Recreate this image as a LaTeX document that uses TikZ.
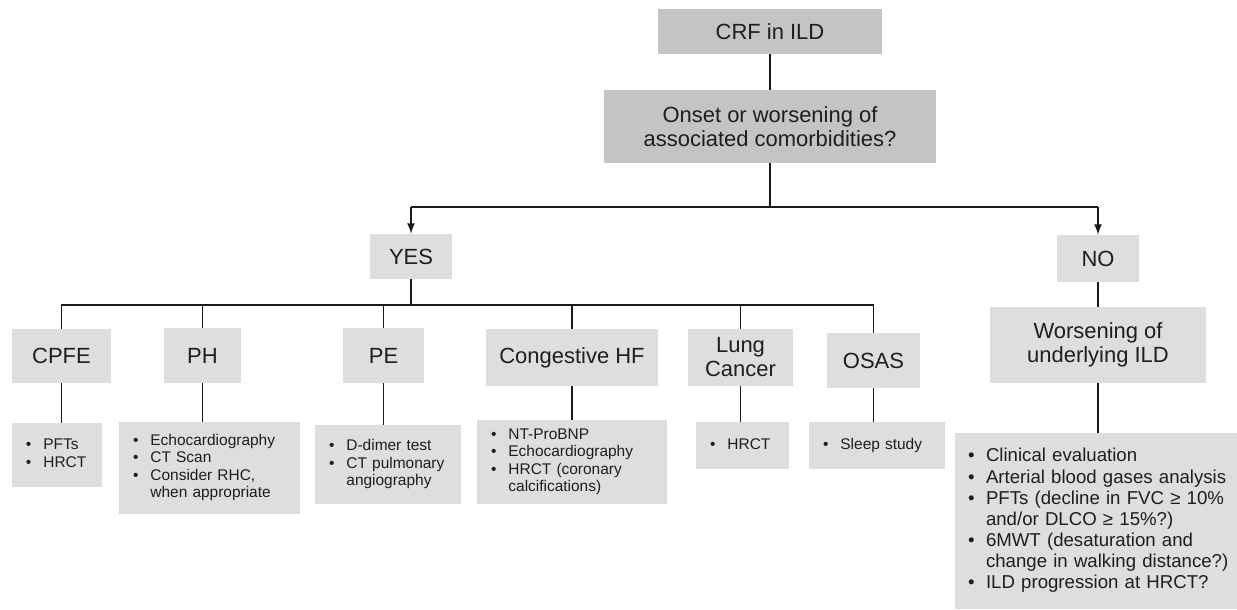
\documentclass[tikz,border=0pt]{standalone}
\usepackage{fontspec}
\setmainfont{Liberation Sans}
\usepackage{tikz}
\usetikzlibrary{shapes}
\usetikzlibrary{arrows}

\definecolor{boxdark}{HTML}{C4C4C4}
\definecolor{boxlight}{HTML}{DEDEDE}
\definecolor{ink}{HTML}{1E1E1E}
\definecolor{wire}{HTML}{1A1A1A}

\begin{document}
\begin{tikzpicture}[
   head/.style={fill=boxlight, text=ink, align=center, inner sep=0pt,
      font=\fontsize{12.5}{13.6}\selectfont},
   top/.style={head, fill=boxdark},
   list/.style={fill=boxlight, text=ink, align=left, inner xsep=0.28cm,
      inner ysep=0pt, font=\fontsize{8.8}{10}\selectfont},
   link/.style={draw=wire, line width=1pt},
   bar/.style={draw=wire, line width=1.7pt},
   arrow/.style={link, -latex}]
\useasboundingbox (0,0) rectangle (24.74,12.18);

\node[top, 
   minimum width=4.48cm, 
   minimum height=0.90cm] (CRF) at (15.40,11.55) 
  {CRF in ILD};
\node[top, 
   minimum width=6.64cm, 
   minimum height=1.46cm] (Onset) at (15.40,9.65) 
  {Onset or worsening of\\associated comorbidities?};
\coordinate (Split) at (15.40,8.04);

\node[head, 
   minimum width=1.64cm, 
   minimum height=0.90cm] (Yes) at (8.22,7.05) 
  {YES};
\node[head, 
   minimum width=1.64cm, 
   minimum height=0.94cm] (No) at (21.96,7.01) 
  {NO};

\node[head, 
   minimum width=1.98cm, 
   minimum height=1.08cm] (CPFE) at (1.23,5.06) 
  {CPFE};
\node[head, 
   minimum width=1.54cm, 
   minimum height=1.10cm] (PH) at (4.05,5.07) 
  {PH};
\node[head, 
   minimum width=1.62cm, 
   minimum height=1.10cm] (PE) at (7.67,5.07) 
  {PE};
\node[head, 
   minimum width=3.44cm, 
   minimum height=1.14cm] (CHF) at (11.44,5.03) 
  {Congestive HF};
\node[head, 
   minimum width=2.10cm, 
   minimum height=1.14cm] (Lung) at (14.81,5.03) 
  {Lung\\Cancer};
\node[head, 
   minimum width=1.86cm, 
   minimum height=1.10cm] (OSAS) at (17.47,4.97) 
  {OSAS};
\node[head, 
   minimum width=4.32cm, 
   minimum height=1.52cm] (Wors) at (21.96,5.28) 
  {Worsening of\\underlying ILD};

\node[list, 
   text width=1.24cm, 
   minimum height=1.28cm] (CPFEl) at (1.14,3.08) 
  {\begin{tabular}{@{}l@{\hspace{0.24cm}}l@{}}
     \textbullet & PFTs\\
     \textbullet & HRCT
   \end{tabular}};
\node[list, 
   text width=3.06cm, 
   minimum height=1.84cm] (PHl) at (4.19,2.82) 
  {\begin{tabular}{@{}l@{\hspace{0.24cm}}l@{}}
     \textbullet & Echocardiography\\
     \textbullet & CT Scan\\
     \textbullet & Consider RHC,\\
                 & when appropriate
   \end{tabular}};
\node[list, 
   text width=2.36cm, 
   minimum height=1.58cm] (PEl) at (7.76,2.89) 
  {\begin{tabular}{@{}l@{\hspace{0.24cm}}l@{}}
     \textbullet & D-dimer test\\
     \textbullet & CT pulmonary\\
                 & angiography
   \end{tabular}};
\node[list, 
   text width=3.24cm, 
   minimum height=1.68cm] (CHFl) at (11.44,2.94) 
  {\begin{tabular}{@{}l@{\hspace{0.24cm}}l@{}}
     \textbullet & NT-ProBNP\\
     \textbullet & Echocardiography\\
     \textbullet & HRCT (coronary\\
                 & calcifications)
   \end{tabular}};
\node[list, 
   text width=1.30cm, 
   minimum height=0.94cm] (Lungl) at (14.85,3.27) 
  {\begin{tabular}{@{}l@{\hspace{0.24cm}}l@{}}
     \textbullet & HRCT
   \end{tabular}};
\node[list, 
   text width=2.16cm, 
   minimum height=0.94cm] (OSASl) at (17.54,3.27) 
  {\begin{tabular}{@{}l@{\hspace{0.24cm}}l@{}}
     \textbullet & Sleep study
   \end{tabular}};
\node[list, 
   inner xsep=0.26cm, 
   text width=5.12cm, 
   minimum height=3.52cm, 
   font=\fontsize{10.6}{12}\selectfont] (Worsl) at (21.92,1.76) 
  {\begin{tabular}{@{}l@{\hspace{0.23cm}}l@{}}
     \textbullet & Clinical evaluation\\
     \textbullet & Arterial blood gases analysis\\
     \textbullet & PFTs (decline in FVC ≥ 10\%\\
                 & and/or DLCO ≥ 15\%?)\\
     \textbullet & 6MWT (desaturation and\\
                 & change in walking distance?)\\
     \textbullet & ILD progression at HRCT?
   \end{tabular}};

\draw[link] (CRF) -- (Onset);
\draw[link] (Onset) -- (Split);
\draw[bar] (Split -| Yes) -- (Split -| No);
\draw[arrow] (Split -| Yes) -- (Yes);
\draw[arrow] (Split -| No) -- (No);

\draw[link] (Yes.south) -- ++(0,-0.52) -| (CPFE.north);
\draw[link] (Yes.south) -- ++(0,-0.52) -| (PH.north);
\draw[link] (Yes.south) -- ++(0,-0.52) -| (PE.north);
\draw[link] (Yes.south) -- ++(0,-0.52) -| (CHF.north);
\draw[link] (Yes.south) -- ++(0,-0.52) -| (Lung.north);
\draw[link] (Yes.south) -- ++(0,-0.52) -| (OSAS.north);

\draw[link] (CPFE.south) -- (CPFE.south |- CPFEl.north);
\draw[link] (PH.south) -- (PH.south |- PHl.north);
\draw[link] (PE.south) -- (PE.south |- PEl.north);
\draw[link] (CHF.south) -- (CHF.south |- CHFl.north);
\draw[link] (Lung.south) -- (Lung.south |- Lungl.north);
\draw[link] (OSAS.south) -- (OSAS.south |- OSASl.north);

\draw[link] (No) -- (Wors);
\draw[link] (Wors.south) -- (Wors.south |- Worsl.north);
\end{tikzpicture}
\end{document}
